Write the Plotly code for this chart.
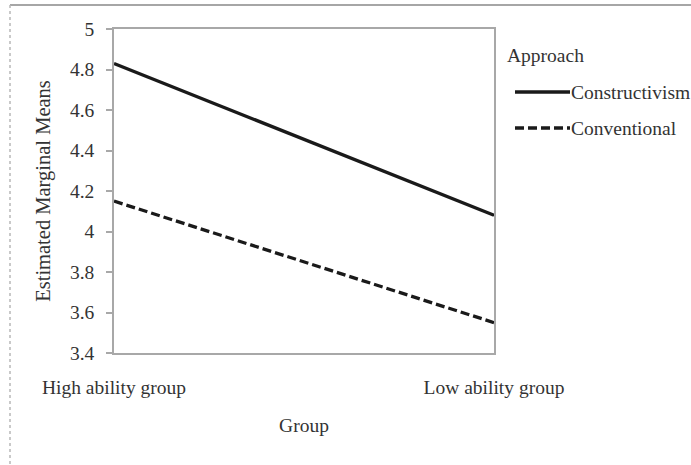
import plotly.graph_objects as go

groups = ["High ability group", "Low ability group"]
series_names = ["Constructivism", "Conventional"]
constructivism = [4.83, 4.08]
conventional = [4.15, 3.55]
y_ticks = [3.4, 3.6, 3.8, 4.0, 4.2, 4.4, 4.6, 4.8, 5.0]
y_tick_labels = ["3.4", "3.6", "3.8", "4", "4.2", "4.4", "4.6", "4.8", "5"]

W, H = 691, 465
L, R, T, B = 114, 494, 29, 353  # plot area in px


def px(x):
    return (x - L) / (R - L)


def py(y):
    return (B - y) / (B - T)


FONT = "Liberation Serif"
FS = 19.5
TXT = "#333333"
LINE = "#1a1a1a"

fig = go.Figure()
dashes = ["solid", "9px,4px"]
for name, vals, dash in zip(series_names, [constructivism, conventional], dashes):
    fig.add_trace(go.Scatter(x=groups, y=vals, mode="lines", name=name,
                             line=dict(color=LINE, width=3.3, dash=dash),
                             showlegend=False, cliponaxis=False, hoverinfo="skip"))

shapes = [
    # outer frame (top and left)
    dict(type="line", xref="paper", yref="paper", x0=px(10), x1=px(691), y0=py(5), y1=py(5),
         line=dict(color="#a6a6a6", width=2)),
    dict(type="line", xref="paper", yref="paper", x0=px(10), x1=px(10), y0=py(5), y1=py(465),
         line=dict(color="#b8b8b8", width=1.5, dash="dot")),
]
annotations = [
    dict(text="Approach", xref="paper", yref="paper", x=px(505), y=py(55), xanchor="left",
         yanchor="middle", showarrow=False, font=dict(family=FONT, size=FS, color=TXT)),
]
legend_y = [92, 128]
for name, dash, yy in zip(series_names, dashes, legend_y):
    shapes.append(dict(type="line", xref="paper", yref="paper", x0=px(515), x1=px(570),
                       y0=py(yy), y1=py(yy), line=dict(color=LINE, width=3.3, dash=dash)))
    annotations.append(dict(text=name, xref="paper", yref="paper", x=px(569), y=py(yy),
                            xanchor="left", yanchor="middle", showarrow=False,
                            font=dict(family=FONT, size=FS, color=TXT)))

fig.update_layout(
    width=W, height=H,
    margin=dict(l=L, r=W - R, t=T, b=H - B),
    paper_bgcolor="white", plot_bgcolor="white",
    font=dict(family=FONT, size=FS, color=TXT),
    shapes=shapes, annotations=annotations,
    showlegend=False,
)
fig.update_xaxes(
    type="category", range=[0, 1], showgrid=False, zeroline=False,
    showline=True, linecolor="#a8a8a8", linewidth=1.5, mirror=True,
    ticks="", ticklabelstandoff=16,
    title=dict(text="Group", standoff=21, font=dict(family=FONT, size=FS, color=TXT)),
)
fig.update_yaxes(
    range=[3.4, 5.0], tickvals=y_ticks, ticktext=y_tick_labels,
    showgrid=False, zeroline=False,
    showline=True, linecolor="#a8a8a8", linewidth=1.5, mirror=True,
    ticks="outside", ticklen=6, tickcolor="#a8a8a8", tickwidth=1.5,
    ticklabelstandoff=8,
    title=dict(text="Estimated Marginal Means", standoff=14,
               font=dict(family=FONT, size=20.5, color=TXT)),
)

fig.write_html("out.html", config={"displayModeBar": False},
               post_script="document.body.style.margin='0';")
